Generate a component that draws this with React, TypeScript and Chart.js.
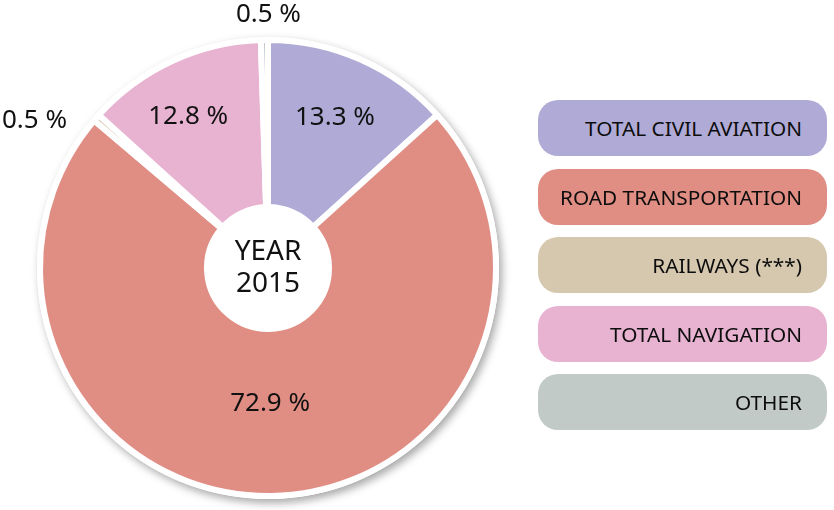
import React, { useEffect, useRef } from "react";
import { Chart, registerables } from "chart.js";

Chart.register(...registerables);

const categories = [
  "TOTAL CIVIL AVIATION",
  "ROAD TRANSPORTATION",
  "RAILWAYS (***)",
  "TOTAL NAVIGATION",
  "OTHER",
];
const shares = [13.3, 72.9, 0.5, 12.8, 0.5];
const shareLabels = ["13.3 %", "72.9 %", "0.5 %", "12.8 %", "0.5 %"];
const colors = ["#b0abd6", "#e08e84", "#d5c8ae", "#e8b2d1", "#c2cac7"];
const centerLines = ["YEAR", "2015"];

// label placement (radius px, angle offset deg) per slice
const labelPlacement = [
  { r: 165, da: 0 },
  { r: 136, da: 0 },
  { r: 276, da: -9 },
  { r: 171, da: -3 },
  { r: 253, da: 1 },
];

const FONT = "'Noto Sans', 'Open Sans', sans-serif";

const shadowPlugin = {
  id: "pieShadow",
  beforeDatasetsDraw(chart: any) {
    const meta = chart.getDatasetMeta(0);
    const arc = meta.data[0];
    if (!arc) return;
    const { x, y, outerRadius } = arc.getProps(["x", "y", "outerRadius"], true);
    const ctx = chart.ctx;
    ctx.save();
    ctx.shadowColor = "rgba(0,0,0,0.35)";
    ctx.shadowBlur = 9;
    ctx.shadowOffsetX = 3;
    ctx.shadowOffsetY = 4;
    ctx.fillStyle = "#ffffff";
    ctx.beginPath();
    ctx.arc(x, y, outerRadius + 3, 0, Math.PI * 2);
    ctx.fill();
    ctx.restore();
  },
};

const labelsPlugin = {
  id: "sliceLabels",
  afterDatasetsDraw(chart: any) {
    const ctx = chart.ctx;
    const meta = chart.getDatasetMeta(0);
    ctx.save();
    ctx.fillStyle = "#111111";
    ctx.textAlign = "center";
    ctx.textBaseline = "middle";
    ctx.font = `26px ${FONT}`;
    meta.data.forEach((arc: any, i: number) => {
      const { x, y, startAngle, endAngle } = arc.getProps(
        ["x", "y", "startAngle", "endAngle"],
        true
      );
      const p = labelPlacement[i];
      const mid = (startAngle + endAngle) / 2 + (p.da * Math.PI) / 180;
      ctx.fillText(shareLabels[i], x + p.r * Math.cos(mid), y + p.r * Math.sin(mid));
    });
    const a0 = meta.data[0];
    if (a0) {
      ctx.font = `28px ${FONT}`;
      ctx.fillText(centerLines[0], a0.x, a0.y - 16);
      ctx.fillText(centerLines[1], a0.x, a0.y + 16);
    }
    ctx.restore();
  },
};

export default function App() {
  const ref = useRef<HTMLCanvasElement | null>(null);
  useEffect(() => {
    if (!ref.current) return;
    const chart = new Chart(ref.current, {
      type: "doughnut",
      data: {
        labels: categories,
        datasets: [
          {
            data: shares,
            backgroundColor: colors,
            borderColor: "#ffffff",
            borderWidth: 6,
            hoverOffset: 0,
          },
        ],
      },
      options: {
        responsive: false,
        animation: false,
        cutout: 61,
        layout: { padding: { left: 37, top: 37, right: 335, bottom: 11 } },
        plugins: {
          legend: { display: false },
          tooltip: { enabled: false },
        },
        events: [],
      },
      plugins: [shadowPlugin, labelsPlugin],
    });
    return () => chart.destroy();
  }, []);

  return (
    <div style={{ position: "absolute", left: 0, top: 0, width: 834, height: 510, background: "#fff" }}>
      <canvas ref={ref} width={834} height={510} style={{ display: "block", position: "absolute", left: 0, top: 0 }} />
      {categories.map((c, i) => (
        <div
          key={c}
          style={{
            position: "absolute",
            left: 538,
            top: 100 + i * 68.5,
            width: 289,
            height: 56,
            borderRadius: 20,
            background: colors[i],
            boxSizing: "border-box",
            paddingRight: 25,
            textAlign: "right",
            lineHeight: "56px",
            fontFamily: FONT,
            fontSize: 20.8,
            color: "#0d0d0d",
            whiteSpace: "nowrap",
          }}
        >
          {c}
        </div>
      ))}
    </div>
  );
}
